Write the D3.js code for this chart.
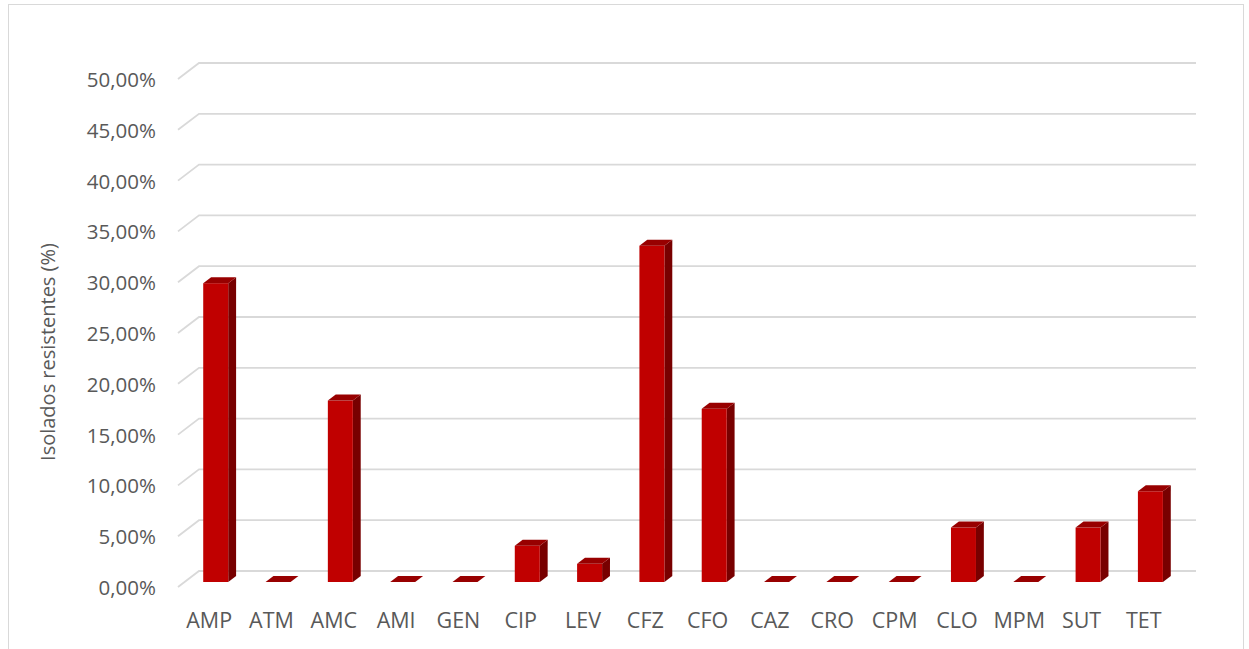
<!DOCTYPE html>
<html>
<head>
<meta charset="utf-8">
<script src="https://cdn.jsdelivr.net/npm/d3@7"></script>
<style>
  html, body { margin: 0; padding: 0; background: #fff; }
  svg { display: block; }
  text { font-family: "Open Sans", "Liberation Sans", sans-serif; fill: #595959; }
</style>
</head>
<body>
<svg id="chart" width="1249" height="649"></svg>
<script>
// Antibiotic codes and share of resistant isolates (%)
const categories = ["AMP", "ATM", "AMC", "AMI", "GEN", "CIP", "LEV", "CFZ",
                    "CFO", "CAZ", "CRO", "CPM", "CLO", "MPM", "SUT", "TET"];
const resistantPct = [29.41, 0, 17.86, 0, 0, 3.57, 1.79, 33.1,
                      17.05, 0, 0, 0, 5.36, 0, 5.36, 8.93];
const yTicks = [0, 5, 10, 15, 20, 25, 30, 35, 40, 45, 50];
const yTitle = "Isolados resistentes (%)";

const svg = d3.select("#chart");

// chart frame
svg.append("rect")
  .attr("x", 8.5).attr("y", 4.5)
  .attr("width", 1235).attr("height", 660)
  .attr("fill", "#fff").attr("stroke", "#d9d9d9").attr("stroke-width", 1);

// front plane scales; depth is added as an oblique offset
const x = d3.scaleBand().domain(categories).range([178, 1175]).padding(0);
const y = d3.scaleLinear().domain([0, 50]).range([587, 79]);
const DX = 21, DY = -16;            // offset of the back wall from the front plane
const depth = z => [DX * z, DY * z];

const ptBr = d3.formatLocale({ decimal: ",", thousands: ".", grouping: [3], currency: ["", ""] });
const pct = ptBr.format(".2%");

// gridlines: side-wall diagonal plus back-wall line
const grid = svg.append("g").attr("fill", "none").attr("stroke", "#d9d9d9").attr("stroke-width", 1.8);
yTicks.forEach(v => {
  const yf = y(v);
  const [bx, by] = depth(1);
  grid.append("path")
    .attr("d", `M${x.range()[0]},${yf} L${x.range()[0] + bx},${yf + by} L${x.range()[1] + bx},${yf + by}`);
});

// value axis labels
svg.append("g").selectAll("text")
  .data(yTicks).join("text")
  .attr("x", 156).attr("y", d => y(d))
  .attr("text-anchor", "end").attr("dominant-baseline", "central")
  .attr("font-size", 20.5)
  .text(d => pct(d / 100));

// category labels
svg.append("g").selectAll("text")
  .data(categories).join("text")
  .attr("x", d => x(d) + x.bandwidth() / 2).attr("y", 619)
  .attr("text-anchor", "middle").attr("dominant-baseline", "central")
  .attr("font-size", 21.5)
  .text(d => d);

// axis title
svg.append("text")
  .attr("transform", "translate(47,352) rotate(-90)")
  .attr("text-anchor", "middle").attr("dominant-baseline", "central")
  .attr("font-size", 20)
  .text(yTitle);

// 3D columns
const barW = 25, z0 = 0.3125, z1 = 0.6875;
const bars = svg.append("g");
categories.forEach((c, i) => {
  const v = resistantPct[i];
  const cx = x(c) + x.bandwidth() / 2;
  const [fx, fy] = depth(z0);
  const [bx, by] = depth(z1);
  const xl = cx - barW / 2 + fx, xr = cx + barW / 2 + fx;
  const yb = y(0) + fy, yt = y(v) + fy;
  const ddx = bx - fx, ddy = by - fy;
  const g = bars.append("g");
  if (v > 0) {
    // side face
    g.append("path")
      .attr("d", `M${xr},${yt} L${xr + ddx},${yt + ddy} L${xr + ddx},${yb + ddy} L${xr},${yb} Z`)
      .attr("fill", "#780000");
    // front face
    g.append("rect")
      .attr("x", xl).attr("y", yt).attr("width", xr - xl).attr("height", yb - yt)
      .attr("fill", "#c00000");
  }
  // top face
  g.append("path")
    .attr("d", `M${xl},${yt} L${xr},${yt} L${xr + ddx},${yt + ddy} L${xl + ddx},${yt + ddy} Z`)
    .attr("fill", "#980000");
});
</script>
</body>
</html>
